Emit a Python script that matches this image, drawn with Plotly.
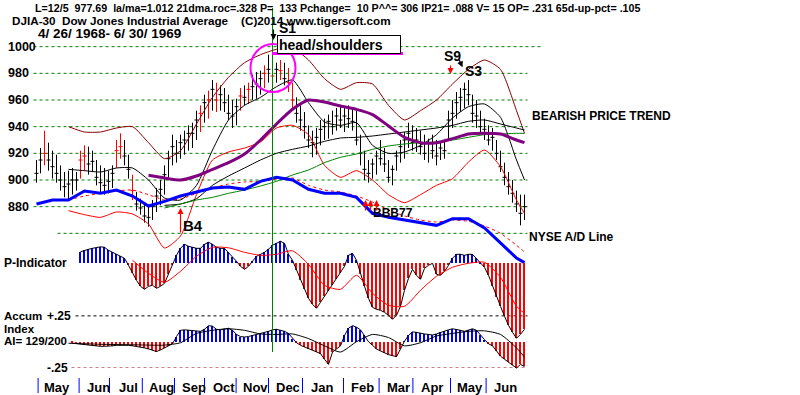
import plotly.graph_objects as go

W, H = 800, 395

# ---------------- price bars (each bar ~ 2-3 sessions) ----------------
bar_idx = list(range(123))
high = [915, 924, 937, 928, 922, 919, 911, 906, 907, 909,
        906, 922, 926, 925, 922, 915, 911, 909, 907, 911,
        930, 935, 930, 919, 904, 891, 886, 883, 880, 885,
        894, 900, 911, 922, 934, 930, 934, 937, 941, 943,
        952, 956, 964, 967, 975, 973, 971, 969, 964, 960,
        961, 969, 971, 973, 979, 981, 982, 986, 994, 991,
        988, 990, 988, 984, 973, 962, 956, 951, 941, 937,
        939, 945, 946, 949, 952, 954, 956, 954, 956, 954,
        952, 934, 922, 915, 916, 922, 930, 924, 915, 911,
        922, 930, 936, 943, 941, 939, 937, 934, 931, 934,
        930, 928, 930, 952, 960, 966, 969, 973, 975, 964,
        960, 952, 946, 941, 939, 930, 922, 913, 906, 900,
        892, 889, 889]
low = [898, 905, 911, 907, 901, 898, 892, 887, 885, 889,
       892, 901, 907, 904, 906, 896, 891, 889, 890, 894,
       909, 916, 911, 901, 885, 877, 874, 868, 865, 870,
       876, 881, 889, 900, 911, 913, 916, 919, 922, 924,
       930, 936, 943, 946, 952, 951, 952, 951, 945, 939,
       941, 952, 956, 957, 960, 961, 964, 969, 973, 971,
       973, 975, 971, 966, 954, 943, 937, 931, 924, 917,
       919, 926, 930, 931, 934, 937, 939, 936, 939, 937,
       926, 911, 900, 898, 901, 904, 911, 906, 898, 896,
       907, 913, 916, 924, 922, 921, 919, 915, 913, 916,
       911, 915, 916, 930, 939, 946, 951, 954, 956, 943,
       939, 936, 930, 926, 922, 915, 906, 896, 889, 883,
       876, 866, 870]
close = [905, 915, 920, 915, 910, 905, 900, 895, 897, 900,
         900, 915, 918, 912, 914, 902, 898, 896, 899, 905,
         922, 925, 918, 908, 892, 882, 879, 873, 872, 880,
         888, 893, 904, 916, 925, 920, 928, 930, 935, 935,
         945, 950, 958, 960, 968, 960, 964, 958, 950, 948,
         955, 963, 962, 968, 970, 972, 976, 980, 983, 978,
         983, 982, 976, 973, 960, 950, 945, 940, 930, 928,
         932, 938, 940, 944, 940, 948, 945, 948, 946, 944,
         930, 920, 908, 905, 912, 918, 916, 912, 902, 908,
         918, 925, 930, 935, 928, 930, 925, 920, 928, 922,
         918, 924, 922, 945, 950, 958, 962, 968, 964, 950,
         948, 940, 938, 930, 932, 920, 910, 902, 895, 890,
         882, 875, 880]
red_bars = [2, 11, 12, 20, 21, 24, 41, 43, 45, 51, 53, 57, 59, 61, 63, 64]

# ---------------- overlay lines (sampled every 4 bars) ----------------
line_idx = list(range(0, 121, 4)) + [122]
upper_band = [None, None, 940, 936, 936, 939, 940, 928, 916, 922, 942, 962, 977, 988,
              994, 998, 999, 990, 976, 968, 973, 972, 956, 945, 952, 960, 972, 983,
              990, 983, 952, 935]
lower_band = [None, None, 877, 874, 872, 876, 874.5, 867, 849, 858, 889, 915, 921, 924,
              928.5, 939, 941, 934, 911, 902, 907, 900, 889, 883, 889, 896, 901, 913.5,
              922.5, 910, 885, 875]
ma21 = [None, None, 908, 907, 906, 909, 909, 900, 886.5, 885, 896, 922.5, 945, 956,
        962, 970, 975, 958, 943.5, 941, 943, 926, 920, 921, 926, 934, 946.5, 955,
        957, 947, 915, 900]
ma65 = [None, None, None, None, None, None, None, 903.5, 901.5, 900, 903, 908, 913,
        919.5, 930, 942, 953, 960, 958.5, 955.5, 953, 949, 940.5, 932, 928, 928, 931,
        934.5, 935, 934.5, 930, 928]
ma_long = [None, None, None, None, None, None, None, None, 881, 882, 886, 896, 903,
           909, 915, 920, 923, 925.5, 929, 931.5, 932, 933, 934.5, 936, 937.5, 939,
           941, 944, 945, 942, 939, 937.5]
ma_green = [None, None, None, None, None, None, None, None, 879, 882, 885, 887, 890,
            892.5, 895.5, 899, 903.75, 907.5, 913, 917, 919.5, 923, 925.5, 927, 928,
            928.5, 930, 932, 934, 934.5, 935, 935]
nyse_ad = [882, 885, 885, 891.75, 890, 892.5, 888, 880.5, 884, 888, 891, 894, 894.75,
           893, 899, 902, 900, 893, 890, 890, 887, 875, 872, 870, 868.5, 866, 871, 871,
           864, 853, 841.5, 838]
nyse_ad_ma = [None, None, 885, 888, 890, 891.75, 892.5, 889, 885, 885.75, 890, 894, 897,
              898.5, 899, 900.75, 901.5, 896, 892.5, 891, 888, 883.5, 877.5, 873, 870,
              868.5, 870, 869, 865.5, 860, 851, 846]

# ---------------- P-Indicator ----------------
p_start = 11
p_ind = [11.5, 13, 14, 15, 15.5, 16.5, 16, 13, 11, 9,
         7.5, 5, -2, -10, -17, -23, -26, -23, -22, -25,
         -23, -20, -11, -1, 8, 15, 19, 17, 16, 15,
         15, 19, 21, 19, 16, 15, 15, 11, 6, 2,
         -3, -6, -3, 2, 7, 9, 11, 14, 18, 20,
         22, 20, 9, 3, -7, -17, -26, -35, -41, -45,
         -39, -33, -28, -22, -16, -10, -3, 8, 10, 3,
         -11, -23, -35, -44, -46, -47, -49, -52, -56, -52,
         -43, -27, -15, -6, -12, -16, -5, -2, 0, -11,
         -12, -8, -2, 5, 9, 9, 8, 9, 9, 5,
         1, -4, -12, -23, -34, -43, -53, -62, -69, -75,
         -71, -66]
p_ma = [None, None, None, None, None, None, 3, -10, -19, -8, 7, 16, 15.5, 11, 8, 9,
        12.5, -1, -22, -26, -12, -30, -42, -43, -27, -13, -4, 0, 1, -14, -43, -50]

# ---------------- Accumulation Index ----------------
ai_start = 9
accum = [-0.015, -0.02, -0.025, -0.03, -0.03, -0.035, -0.04, -0.045, -0.045, -0.045,
         -0.04, -0.035, -0.035, -0.03, -0.035, -0.04, -0.045, -0.05, -0.06, -0.07,
         -0.08, -0.095, -0.08, -0.06, -0.045, -0.02, 0.05, 0.11, 0.115, 0.11,
         0.105, 0.1, 0.1, 0.12, 0.155, 0.15, 0.12, 0.115, 0.125, 0.13,
         0.11, 0.07, 0.05, 0.045, 0.05, 0.06, 0.065, 0.075, 0.085, 0.1,
         0.115, 0.12, 0.11, 0.1, 0.08, 0.03, -0.01, -0.035, -0.05, -0.07,
         -0.085, -0.1, -0.115, -0.17, -0.22, -0.1, -0.07, -0.04, 0.06, 0.13,
         0.155, 0.14, 0.115, 0.06, 0.0, -0.035, -0.07, -0.09, -0.11, -0.125,
         -0.135, -0.145, -0.07, 0.005, 0.06, 0.095, 0.09, 0.08, 0.075, 0.07,
         0.065, 0.075, 0.09, 0.1, 0.115, 0.125, 0.12, 0.11, 0.1, 0.115,
         0.125, 0.11, 0.06, 0.02, -0.02, -0.04, -0.09, -0.14, -0.17, -0.2,
         -0.23, -0.255, -0.22, -0.24]
ai_ma = [None, None, -0.015, -0.02, -0.025, -0.028, -0.03, -0.033, -0.033, -0.01, 0.08,
         0.11, 0.125, 0.11, 0.075, 0.07, 0.075, 0.03, -0.04, -0.1, 0.0, 0.07, 0.04,
         -0.04, -0.01, 0.055, 0.08, 0.1, 0.105, 0.07, -0.06, -0.15]
ai_levels = [0.25, -0.25]
ai_level_labels = ["+.25", "-.25"]

# ---------------- axes / labels ----------------
month_bounds = [0.4, 10.65, 18.25, 26.45, 34.5, 42, 49.9, 58, 66.5, 76.75, 85.65, 94.1, 103.5, 112.4]
month_labels = ["May", "Jun", "Jul", "Aug", "Sep", "Oct", "Nov", "Dec", "Jan", "Feb", "Mar",
                "Apr", "May", "Jun"]
price_grid = [1000, 980, 960, 940, 920, 900, 880, 860]
price_labels = ["1000", "980", "960", "940", "920", "900", "880", ""]
signal_day = 59          # 12/5/1968
head_top = [53.5, 64.75, 966, 1002]   # circle around the head (bars / price)
buy_days = [82.25, 83.5, 85]

FONT = "Liberation Sans, Arial, sans-serif"
fig = go.Figure()

# price bars
blk = [i for i in bar_idx if i not in red_bars]
for idxs, col in ((blk, "black"), (red_bars, "#ff0000")):
    fig.add_trace(go.Ohlc(
        x=idxs, open=[close[i] for i in idxs], high=[high[i] for i in idxs],
        low=[low[i] for i in idxs], close=[close[i] for i in idxs],
        increasing=dict(line=dict(color=col, width=1)),
        decreasing=dict(line=dict(color=col, width=1)),
        tickwidth=0.5, showlegend=False, hoverinfo="skip", xaxis="x", yaxis="y"))

def line(y, color, width=1, dash="solid", axis="y", shape="spline"):
    fig.add_trace(go.Scatter(x=line_idx, y=y, mode="lines", yaxis=axis,
                             line=dict(color=color, width=width, dash=dash, shape=shape, smoothing=0.6),
                             showlegend=False, hoverinfo="skip", connectgaps=False))

line(nyse_ad_ma, "#ff0000", 1, "dot")
line(upper_band, "#8b0000", 1)
line(lower_band, "#ff0000", 1)
line(ma_long, "black", 1)
line(ma_green, "#008000", 1)
line(ma21, "black", 1)
line(ma65, "#800080", 3)
line(nyse_ad, "#0000ff", 3, shape="linear")

# P-Indicator
p_x = list(range(p_start, p_start + len(p_ind)))
fig.add_trace(go.Bar(x=p_x, y=p_ind, width=0.45, yaxis="y2",
                     marker=dict(color=["#0000ff" if v >= 0 else "#ff0000" for v in p_ind], line=dict(width=0)),
                     showlegend=False, hoverinfo="skip"))
fig.add_trace(go.Scatter(x=p_x, y=p_ind, mode="lines", yaxis="y2", line=dict(color="black", width=1),
                         showlegend=False, hoverinfo="skip"))
line(p_ma, "#ff0000", 1, axis="y2")

# Accumulation index
a_x = list(range(ai_start, ai_start + len(accum)))
fig.add_trace(go.Bar(x=a_x, y=accum, width=0.45, yaxis="y3",
                     marker=dict(color=["#0000ff" if v >= 0 else "#ff0000" for v in accum], line=dict(width=0)),
                     showlegend=False, hoverinfo="skip"))
fig.add_trace(go.Scatter(x=a_x, y=accum, mode="lines", yaxis="y3", line=dict(color="black", width=1),
                         showlegend=False, hoverinfo="skip"))
line(ai_ma, "black", 1, axis="y3")

shapes = []
ann = []

def txt(x, y, s, size=12, anchor="left", color="black", **kw):
    d = dict(x=x / W, y=1 - y / H, xref="paper", yref="paper", text="<b>" + s + "</b>",
             showarrow=False, xanchor=anchor, yanchor="middle",
             font=dict(family=FONT, size=size, color=color))
    d.update(kw)
    ann.append(d)

# price gridlines and labels
for lv, lab in zip(price_grid, price_labels):
    x0 = 5.25 if lv == price_grid[-1] else -0.75
    x1 = 126 if lv == price_grid[0] else 122.75
    shapes.append(dict(type="line", xref="x", yref="y", x0=x0, x1=x1, y0=lv, y1=lv,
                       line=dict(color="#008000", width=1, dash="dot"), layer="below"))
    if lab:
        ann.append(dict(x=6 / W, xref="paper", y=lv, yref="y", text="<b>" + lab + "</b>", showarrow=False,
                        xanchor="left", yanchor="middle", font=dict(family=FONT, size=12.5, color="black")))

# AI levels
for lv, lab, col, x0 in zip(ai_levels, ai_level_labels, ["black", "#d08080"], [9.75, 8.75]):
    shapes.append(dict(type="line", xref="x", yref="y3", x0=x0, x1=122.75, y0=lv, y1=lv,
                       line=dict(color=col, width=1, dash="dot"), layer="below"))
    ann.append(dict(x=45 / W, xref="paper", y=lv, yref="y3", text="<b>" + lab + "</b>", showarrow=False,
                    xanchor="left", yanchor="middle", font=dict(family=FONT, size=12, color="black")))

# month ticks / labels
for b, lab in zip(month_bounds, month_labels):
    shapes.append(dict(type="line", xref="x", yref="paper", x0=b, x1=b, y0=1 - 393 / H, y1=1 - 378 / H,
                       line=dict(color="#0000ff", width=1)))
    ann.append(dict(x=b + 4.8, xref="x", y=1 - 387 / H, yref="paper", text="<b>" + lab + "</b>",
                    showarrow=False, xanchor="center", yanchor="middle",
                    font=dict(family=FONT, size=13, color="black")))

# green signal line
shapes.append(dict(type="line", xref="x", yref="paper", x0=signal_day, x1=signal_day,
                   y0=1 - 352 / H, y1=1 - 8 / H, line=dict(color="#008000", width=1), layer="above"))
# head circle
shapes.append(dict(type="circle", xref="x", yref="y", x0=head_top[0], x1=head_top[1],
                   y0=head_top[2], y1=head_top[3], line=dict(color="#ff00ff", width=2)))
# magenta underline
shapes.append(dict(type="line", xref="paper", yref="paper", x0=272 / W, x1=403 / W,
                   y0=1 - 53.5 / H, y1=1 - 53.5 / H, line=dict(color="#ff00ff", width=3)))

# header texts
nb = "\u00a0"
txt(33, 8, "L=12/5" + nb * 2 + "977.69" + nb * 2 + "la/ma=1.012 21dma.roc=.328 P=" + nb * 2 + "133 Pchange="
    + nb * 2 + "10 P^^= 306 IP21= .088 V= 15 OP= .231 65d-up-pct= .105", 10.7)
txt(10, 21, "DJIA-30" + nb * 2 + "Dow Jones Industrial Average" + nb * 4 + "(C)2014 www.tigersoft.com", 11.7)
txt(36, 33, "4/" + nb + "26/" + nb + "1968-" + nb + "6/" + nb + "30/" + nb + "1969", 13.5)
txt(277, 28, "S1", 14)
ann.append(dict(x=277 / W, y=1 - 44 / H, xref="paper", yref="paper", text="<b>head/shoulders</b>",
                showarrow=False, xanchor="left", yanchor="middle", align="left", width=120, height=15,
                bgcolor="white", bordercolor="black", borderwidth=1, borderpad=1,
                font=dict(family=FONT, size=14, color="black")))
txt(442, 56, "S9", 14)
txt(463, 71, "S3", 14)
txt(181, 225, "B4", 15)
txt(371, 213, "BBB77", 12)
txt(530, 116, "BEARISH PRICE TREND", 12)
txt(527, 237, "NYSE A/D Line", 12)
txt(2, 263, "P-Indicator", 12)
txt(2, 316, "Accum", 11.5)
txt(2, 328.5, "Index", 11.5)
txt(2, 341, "AI= 129/200", 11.5)

# arrows
def arrow(x, y, ax, ay, color, axis="y", w=1.2):
    ann.append(dict(x=x, y=y, xref="x", yref=axis, ax=ax, ay=ay, text="", showarrow=True,
                    arrowhead=2, arrowsize=1, arrowwidth=w, arrowcolor=color))

arrow(36, 879, 0, 26, "#ff0000")
arrow(signal_day + 0.25, 1005, 0, -12, "black")
arrow(103.5, 979.5, 0, -10, "#ff0000")
arrow(106.5, 984.5, -4, -9, "black")
for b in buy_days:
    arrow(b, 885, 0, 12, "#ff0000")

fig.update_layout(
    width=W, height=H, margin=dict(l=0, r=0, t=0, b=0),
    paper_bgcolor="white", plot_bgcolor="white", bargap=0, barmode="overlay",
    xaxis=dict(range=[-9.125, 190.875], visible=False, rangeslider=dict(visible=False), domain=[0, 1]),
    yaxis=dict(range=[738.75, 1035], visible=False, domain=[0, 1]),
    yaxis2=dict(range=[-131.7, 263.3], visible=False, overlaying="y"),
    yaxis3=dict(range=[-0.516, 3.307], visible=False, overlaying="y"),
    shapes=shapes, annotations=ann, showlegend=False,
)
fig.write_html("out.html", config={"displayModeBar": False},
               post_script="document.body.style.margin='0';document.body.style.overflow='hidden';")
